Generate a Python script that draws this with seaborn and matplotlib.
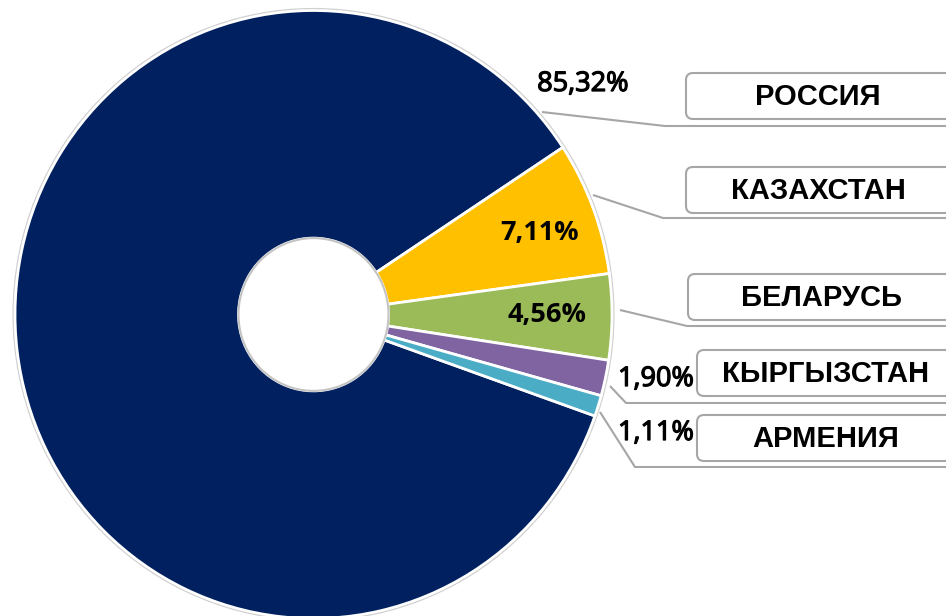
import matplotlib.pyplot as plt
import matplotlib.patheffects as pe
import seaborn as sns
from matplotlib.patches import Circle, FancyBboxPatch

# %%
countries = ['РОССИЯ', 'КАЗАХСТАН', 'БЕЛАРУСЬ', 'КЫРГЫЗСТАН', 'АРМЕНИЯ']
shares = [85.32, 7.11, 4.56, 1.90, 1.11]
slice_colors = ['#002060', '#FFC000', '#9BBB59', '#8064A2', '#4BACC6']

sns.set_theme(style='white')
plt.rcParams['font.family'] = ['Liberation Sans', 'DejaVu Sans']
pal = sns.color_palette(slice_colors)

W, H = 946, 616
fig = plt.figure(figsize=(W / 100, H / 100), dpi=100)
ax = fig.add_axes([0, 0, 1, 1])

# pie is slightly taller than wide in the source, so y gets its own scale
cx, cy = 313.5, 314.5
r_out, r_in = 298.5, 75
sy = 304 / 298.5

wedges, _ = ax.pie(shares, colors=pal, startangle=-19.5, counterclock=False,
                   radius=r_out, center=(0, 0),
                   wedgeprops=dict(width=r_out - r_in, edgecolor='white', linewidth=2))
ax.set_aspect('auto')
ax.set_xlim(-cx, W - cx)
ax.set_ylim(-(H - cy) / sy, cy / sy)
ax.add_patch(Circle((0, 0), r_out + 1.5, fill=False, ec='#cfcfcf', lw=1.5, zorder=0))
ax.add_patch(Circle((0, 0), r_in, fill=False, ec='#c4c4c4', lw=1.5, zorder=5))
ax.axis('off')

# %% overlay in pixel coords for callouts
ov = fig.add_axes([0, 0, 1, 1])
ov.set_xlim(0, W)
ov.set_ylim(H, 0)
ov.axis('off')
ov.patch.set_alpha(0)

box_left = [686, 686, 688, 697, 697]
box_top = [73, 167, 274, 350, 415]
box_h = 46
text_x = [818, 818, 821, 826, 826]
leaders = [
    [(542, 112), (665, 126)],
    [(593, 195), (663, 218)],
    [(620, 310), (687, 326)],
    [(610, 386), (626, 403)],
    [(600, 412), (635, 467)],
]
pct_pos = [(583, 84), (540, 233), (547, 315), (656, 379), (656, 433)]
pct_bold = [False, True, True, False, False]

line_c = '#a6a6a6'
thicken = [pe.withStroke(linewidth=0.9, foreground='black')]
for i, name in enumerate(countries):
    (x0, y0), (x1, y1) = leaders[i]
    ov.plot([x0, x1, W + 5], [y0, y1, y1], color=line_c, lw=1.5, solid_capstyle='butt')
    ov.add_patch(FancyBboxPatch((box_left[i], box_top[i]), 320, box_h,
                                boxstyle='round,pad=0,rounding_size=7',
                                fc='white', ec=line_c, lw=1.5, zorder=3))
    ov.text(text_x[i], box_top[i] + box_h / 2 + 1, name, ha='center', va='center',
            fontsize=21, fontweight='bold', color='black', zorder=4)
    label = f'{shares[i]:.2f}'.replace('.', ',') + '%'
    px, py = pct_pos[i]
    ov.text(px, py, label, ha='center', va='center', fontsize=19.5,
            family=['Open Sans', 'DejaVu Sans'],
            fontweight='bold' if pct_bold[i] else 'normal', color='black', zorder=4,
            path_effects=None if pct_bold[i] else thicken)

plt.savefig('out.png', dpi=100)
